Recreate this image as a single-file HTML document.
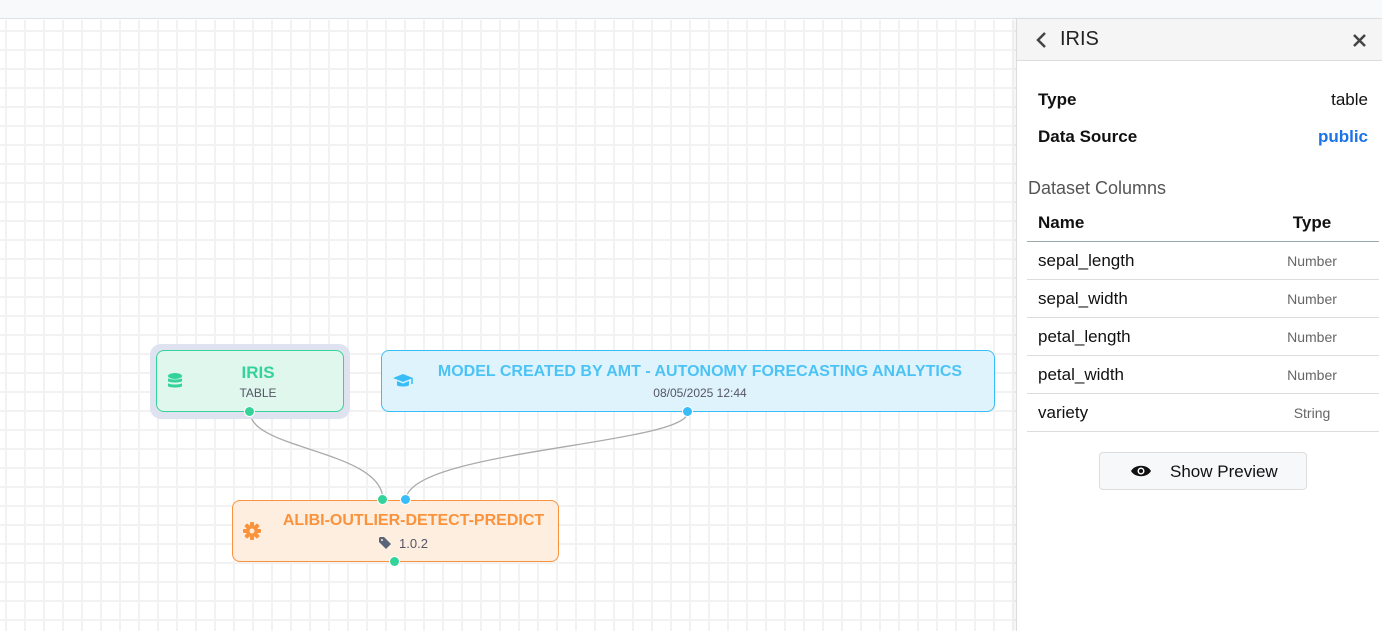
<!DOCTYPE html>
<html><head><meta charset="utf-8"><style>
*{box-sizing:border-box;margin:0;padding:0}
body{width:1382px;height:631px;overflow:hidden;font-family:"Liberation Sans",sans-serif;background:#fff;position:relative}
.top{position:absolute;left:0;top:0;width:1382px;height:19px;background:#f8f9fa;border-bottom:1px solid #dee2e6}
.canvas{position:absolute;left:0;top:20px;width:1016px;height:611px;
background-image:linear-gradient(to right,#f2f2f2 2px,transparent 2px),linear-gradient(to bottom,#f2f2f2 2px,transparent 2px);
background-size:19px 19px;background-position:5px 10px}
.node{position:absolute;border-radius:8px;text-align:center}
.t{font-weight:bold;font-size:16px;position:absolute;top:12px;width:100%}
.s{font-size:12px;color:#556;position:absolute;top:35px;width:100%}
.dot{position:absolute;width:11px;height:11px;border-radius:50%;border:1px solid #fff}
.panel{position:absolute;left:1016px;top:19px;width:366px;height:612px;background:#fff;border-left:1px solid #dcdcdc;box-shadow:-2px 0 4px rgba(0,0,0,.05)}
.ph{height:42px;background:#f5f5f5;border-bottom:1px solid #ddd;position:relative}
.row{position:absolute;left:21px;right:14px;font-size:17px;color:#111}
.row b{font-weight:bold}
.row span{position:absolute;right:0}
.tr{position:absolute;left:10px;width:352px;height:38px;border-bottom:1px solid #ddd;font-size:17px;color:#111}
.tr .n{position:absolute;left:11px;top:9px}
.tr .ty{position:absolute;left:255px;width:60px;text-align:center;top:11px;font-size:14px;color:#666}
</style></head><body>
<div class="top"></div>
<div class="canvas"></div>
<svg style="position:absolute;left:0;top:0" width="1016" height="631">
<path d="M250 412 C250 450 383 450 383 500" fill="none" stroke="#aaa" stroke-width="1.3"/>
<path d="M688 412 C688 445 406 450 406 500" fill="none" stroke="#aaa" stroke-width="1.3"/>
</svg>
<div style="position:absolute;left:150px;top:344px;width:200px;height:75px;border-radius:11px;background:#dfe3ef"></div>
<div class="node" style="left:156px;top:350px;width:188px;height:62px;background:#e0f7ee;border:1px solid #34d399">
<div class="t" style="color:#34d399;left:8px;font-size:17px">IRIS</div><div class="s" style="left:8px">TABLE</div>
<svg style="position:absolute;left:10px;top:22px" width="16" height="18" viewBox="0 0 16 18"><ellipse cx="8" cy="3" rx="7" ry="3" fill="#34d399"/><path d="M1 5v3c0 2 14 2 14 0V5c0 2-14 2-14 0zM1 10v3c0 2 14 2 14 0v-3c0 2-14 2-14 0z" fill="#34d399"/></svg>
</div>
<div class="node" style="left:381px;top:350px;width:614px;height:62px;background:#dff3fd;border:1px solid #38bdf8">
<div class="t" style="color:#4cc3f5;left:12px">MODEL CREATED BY AMT - AUTONOMY FORECASTING ANALYTICS</div>
<div class="s" style="left:12px">08/05/2025 12:44</div>
<svg style="position:absolute;left:10px;top:22px" width="22" height="16" viewBox="0 0 22 16"><path d="M11 1 1 5l10 4 10-4z" fill="#38bdf8"/><path d="M5 8v4c0 2 12 2 12 0V8l-6 2.5z" fill="#38bdf8"/><path d="M20 5v6" stroke="#38bdf8" stroke-width="1.5"/></svg>
</div>
<div class="node" style="left:232px;top:500px;width:327px;height:62px;background:#feeedf;border:1px solid #fb923c">
<div class="t" style="color:#fb923c;left:18px;top:11px">ALIBI-OUTLIER-DETECT-PREDICT</div>
<div class="s" style="left:18px;top:35px;font-size:13px">1.0.2</div>
<svg style="position:absolute;left:146px;top:36px" width="12" height="12" viewBox="0 0 12 12"><path d="M0 1v4l7 7 5-5-7-7H1z" fill="#5a6478"/><circle cx="3" cy="3" r="1" fill="#feeedf"/></svg>
<svg style="position:absolute;left:10px;top:21px" width="18" height="18" viewBox="0 0 18 18"><g fill="#fb923c"><circle cx="9" cy="9" r="6"/><rect x="7" y="0" width="4" height="18" rx="1"/><rect x="0" y="7" width="18" height="4" rx="1"/><rect x="7" y="0" width="4" height="18" rx="1" transform="rotate(45 9 9)"/><rect x="7" y="0" width="4" height="18" rx="1" transform="rotate(-45 9 9)"/></g><circle cx="9" cy="9" r="2.5" fill="#feeedf"/></svg>
</div>
<div class="dot" style="left:244px;top:406px;background:#34d399"></div>
<div class="dot" style="left:682px;top:406px;background:#38bdf8"></div>
<div class="dot" style="left:377px;top:494px;background:#34d399"></div>
<div class="dot" style="left:400px;top:494px;background:#38bdf8"></div>
<div class="dot" style="left:389px;top:556px;background:#34d399"></div>
<div class="panel">
<div class="ph"><svg style="position:absolute;left:18px;top:12px" width="12" height="18" viewBox="0 0 12 18"><path d="M10 2 3 9l7 7" fill="none" stroke="#444" stroke-width="2.5"/></svg>
<div style="position:absolute;left:43px;top:9px;font-size:20px;color:#222">IRIS</div>
<svg style="position:absolute;right:16px;top:15px" width="13" height="13" viewBox="0 0 13 13"><path d="M1 1l11 11M12 1 1 12" stroke="#444" stroke-width="2.5"/></svg></div>
<div class="row" style="top:71px"><b>Type</b><span>table</span></div>
<div class="row" style="top:108px"><b>Data Source</b><span style="color:#1a73e8;font-weight:bold">public</span></div>
<div style="position:absolute;left:11px;top:159px;font-size:18px;color:#555">Dataset Columns</div>
<div class="tr" style="top:184px;border-bottom:1px solid #9aa;height:39px"><b class="n" style="top:10px">Name</b><b class="ty" style="top:10px;font-size:17px;color:#111">Type</b></div>
<div class="tr" style="top:223px"><span class="n">sepal_length</span><span class="ty">Number</span></div>
<div class="tr" style="top:261px"><span class="n">sepal_width</span><span class="ty">Number</span></div>
<div class="tr" style="top:299px"><span class="n">petal_length</span><span class="ty">Number</span></div>
<div class="tr" style="top:337px"><span class="n">petal_width</span><span class="ty">Number</span></div>
<div class="tr" style="top:375px"><span class="n">variety</span><span class="ty">String</span></div>
<div style="position:absolute;left:82px;top:433px;width:208px;height:38px;border:1px solid #ddd;border-radius:4px;background:#f7f8fa">
<svg style="position:absolute;left:30px;top:11px" width="22" height="14" viewBox="0 0 22 14"><path d="M1 7C5 0 17 0 21 7 17 14 5 14 1 7z" fill="#111"/><circle cx="11" cy="7" r="3.5" fill="#fff"/><circle cx="11" cy="7" r="2" fill="#111"/></svg>
<span style="position:absolute;left:70px;top:9px;font-size:17px;color:#111">Show Preview</span></div>
</div>
</body></html>
